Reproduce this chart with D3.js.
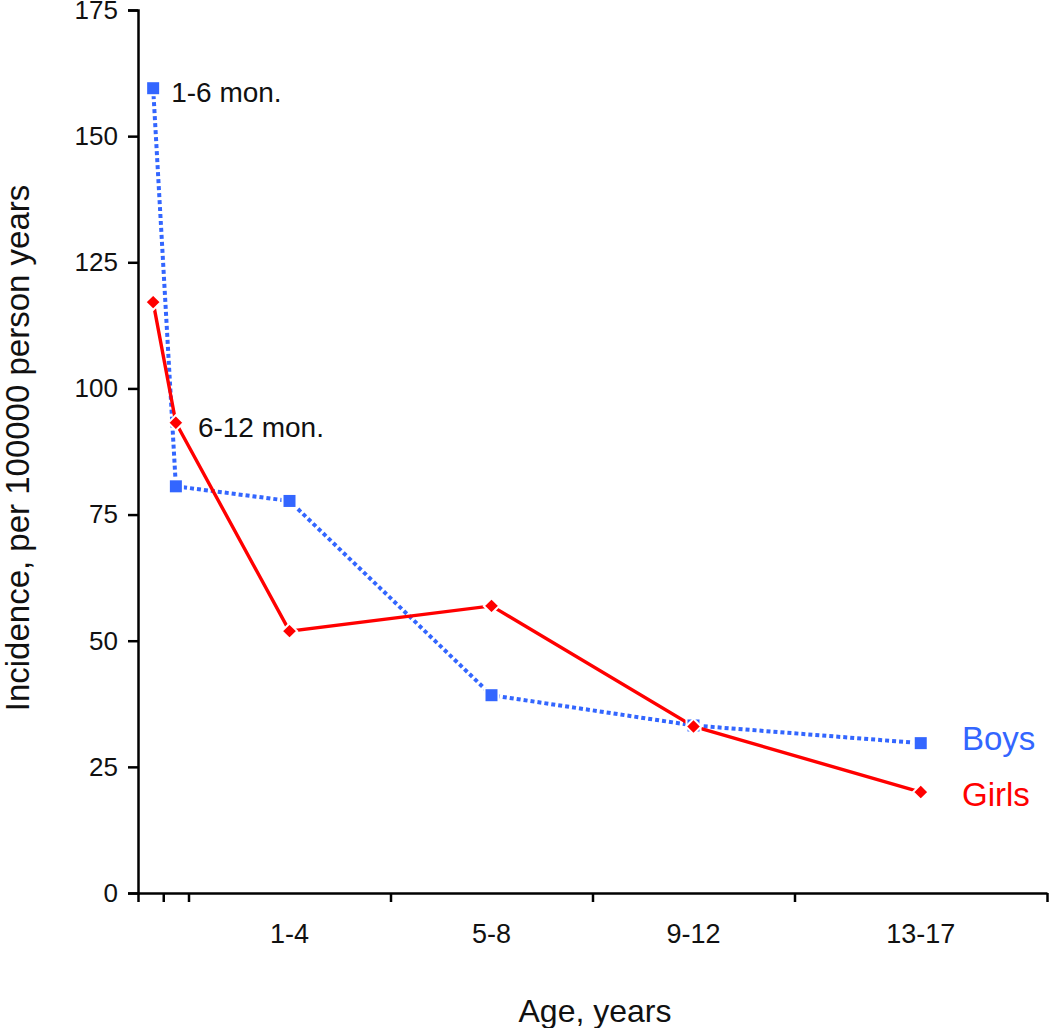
<!DOCTYPE html>
<html>
<head>
<meta charset="utf-8">
<script src="https://cdn.jsdelivr.net/npm/d3@7"></script>
<style>
  html, body { margin: 0; padding: 0; background: #fff; }
  svg { display: block; font-family: "Liberation Sans", Arial, sans-serif; }
</style>
</head>
<body>
<svg id="chart" width="1050" height="1028"></svg>
<script>
// ---- data ----
const ageGroups = ["1-6 mon.", "6-12 mon.", "1-4", "5-8", "9-12", "13-17"];
const ageMid = [0.3, 0.75, 3, 7, 11, 15.5];          // position on age axis (years)
const boys = [159.5, 80.6, 77.7, 39.2, 33.2, 29.7];
const girls = [117.1, 93.2, 51.9, 56.9, 33.0, 20.0];
const xTickValues = [0, 0.5, 1, 5, 9, 13, 18];
const xBandLabels = ["1-4", "5-8", "9-12", "13-17"];
const xBandStarts = [1, 5, 9, 13];
const xBandEnds = [5, 9, 13, 18];
const yTickValues = [0, 25, 50, 75, 100, 125, 150, 175];

const svg = d3.select("#chart");
const x = d3.scaleLinear().domain([0, 18]).range([138, 1047]);
const y = d3.scaleLinear().domain([0, 175]).range([893, 10]);

const blue = "#3366FF", red = "#FF0000";

// axes
const yAxis = svg.append("g").attr("transform", `translate(${x(0)},0)`)
  .call(d3.axisLeft(y).tickValues(yTickValues).tickSize(10).tickPadding(10).tickSizeOuter(10));
yAxis.select(".domain").attr("stroke", "#000").attr("stroke-width", 2.5);
yAxis.selectAll(".tick line").attr("stroke", "#000").attr("stroke-width", 2.5);
yAxis.selectAll(".tick text").attr("font-size", 26).attr("fill", "#111")
  .attr("font-family", "Liberation Sans, Arial, sans-serif");

const xAxis = svg.append("g").attr("transform", `translate(0,${y(0)})`)
  .call(d3.axisBottom(x).tickValues(xTickValues).tickSize(9).tickSizeOuter(0).tickFormat(""));
xAxis.select(".domain").attr("stroke", "#000").attr("stroke-width", 2.5);
xAxis.selectAll(".tick line").attr("stroke", "#000").attr("stroke-width", 2.5);

// band labels
svg.append("g").selectAll("text").data(xBandLabels).join("text")
  .attr("x", (d, i) => (x(xBandStarts[i]) + x(xBandEnds[i])) / 2)
  .attr("y", 943)
  .attr("text-anchor", "middle")
  .attr("font-size", 27).attr("fill", "#111")
  .text(d => d);

// axis titles
svg.append("text").attr("x", 595).attr("y", 1022).attr("text-anchor", "middle")
  .attr("font-size", 32).attr("fill", "#111").text("Age, years");
svg.append("text").attr("transform", "translate(29,448) rotate(-90)").attr("text-anchor", "middle")
  .attr("font-size", 33).attr("fill", "#111").text("Incidence, per 100000 person years");

// lines
const line = d3.line().x((d, i) => x(ageMid[i])).y(d => y(d));
svg.append("path").datum(boys).attr("d", line).attr("fill", "none")
  .attr("stroke", blue).attr("stroke-width", 4).attr("stroke-dasharray", "4,3");
svg.append("path").datum(girls).attr("d", line).attr("fill", "none")
  .attr("stroke", red).attr("stroke-width", 3.4);

// markers
svg.append("g").selectAll("rect").data(boys).join("rect")
  .attr("x", (d, i) => x(ageMid[i]) - 7).attr("y", d => y(d) - 7)
  .attr("width", 14).attr("height", 14)
  .attr("fill", blue).attr("stroke", "#fff").attr("stroke-width", 2);
svg.append("g").selectAll("path").data(girls).join("path")
  .attr("d", d3.symbol().type(d3.symbolDiamond2).size(150))
  .attr("transform", (d, i) => `translate(${x(ageMid[i])},${y(d)})`)
  .attr("fill", red).attr("stroke", "#fff").attr("stroke-width", 2);

// point annotations
svg.append("text").attr("x", x(ageMid[0]) + 18).attr("y", y(boys[0]) + 14)
  .attr("font-size", 28).attr("fill", "#111").text(ageGroups[0]);
svg.append("text").attr("x", x(ageMid[1]) + 22).attr("y", y(girls[1]) + 14)
  .attr("font-size", 28).attr("fill", "#111").text(ageGroups[1]);

// series labels
svg.append("text").attr("x", 962).attr("y", 750).attr("font-size", 33).attr("fill", blue).text("Boys");
svg.append("text").attr("x", 962).attr("y", 806).attr("font-size", 33).attr("fill", red).text("Girls");
</script>
</body>
</html>
